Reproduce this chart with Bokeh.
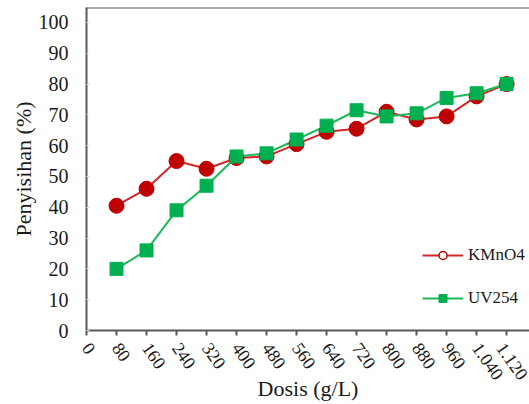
import math
from bokeh.plotting import figure
from bokeh.models import FixedTicker, Span, Legend, LegendItem, Range1d, ColumnDataSource
from bokeh.embed import file_html
from bokeh.resources import INLINE

# ---- data ----
dosis = [80, 160, 240, 320, 400, 480, 560, 640, 720, 800, 880, 960, 1040, 1120]
kmno4 = [40.5, 46, 55, 52.5, 56, 56.5, 60.5, 64.5, 65.5, 71, 68.5, 69.5, 76, 80]
uv254 = [20, 26, 39, 47, 56.5, 57.5, 62, 66.5, 71.5, 69.5, 70.5, 75.5, 77, 80]
x_ticks = [0, 80, 160, 240, 320, 400, 480, 560, 640, 720, 800, 880, 960, 1040, 1120]
x_tick_labels = ["0", "80", "160", "240", "320", "400", "480", "560", "640", "720",
                 "800", "880", "960", "1.040", "1.120"]
y_ticks = [0, 10, 20, 30, 40, 50, 60, 70, 80, 90, 100]
x_title = "Dosis (g/L)"
y_title = "Penyisihan (%)"

FONT = "Liberation Serif"
AXIS_COLOR = "#595959"
TEXT = "#1a1a1a"
RED = "#C00000"
RED_LINE = "#D02828"
GREEN = "#00B050"
GREEN_LINE = "#1DB85A"

Y_END = 104.85

p = figure(width=529, height=404, output_backend="svg", toolbar_location=None,
           x_range=Range1d(0, 1181), y_range=Range1d(0, Y_END),
           min_border_left=86, min_border_right=0, min_border_top=7, min_border_bottom=73)
p.outline_line_color = None
p.xgrid.visible = False
p.ygrid.visible = False
p.background_fill_color = "white"
p.border_fill_color = "white"

# top border line
p.add_layout(Span(location=Y_END, dimension="width", line_color=AXIS_COLOR, line_width=2))

# x axis
xa = p.xaxis[0]
xa.ticker = FixedTicker(ticks=x_ticks)
xa.major_label_overrides = {t: l for t, l in zip(x_ticks, x_tick_labels)}
xa.major_label_orientation = -0.96
xa.major_label_text_font = FONT
xa.major_label_text_font_size = "18px"
xa.major_label_text_color = TEXT
xa.major_label_standoff = 9
xa.axis_line_color = AXIS_COLOR
xa.axis_line_width = 2
xa.major_tick_line_color = AXIS_COLOR
xa.major_tick_line_width = 2
xa.major_tick_in = 0
xa.major_tick_out = 5
xa.minor_tick_line_color = None
xa.axis_label = x_title
xa.axis_label_text_font = FONT
xa.axis_label_text_font_size = "22px"
xa.axis_label_text_font_style = "normal"
xa.axis_label_text_color = TEXT
xa.axis_label_standoff = -12

# y axis
ya = p.yaxis[0]
ya.ticker = FixedTicker(ticks=y_ticks)
ya.major_label_text_font = FONT
ya.major_label_text_font_size = "20px"
ya.major_label_text_color = TEXT
ya.major_label_standoff = 18
ya.axis_line_color = AXIS_COLOR
ya.axis_line_width = 2
ya.major_tick_line_color = "#dcdcdc"
ya.major_tick_in = 3
ya.major_tick_out = 0
ya.minor_tick_line_color = None
ya.axis_label = y_title
ya.axis_label_text_font = FONT
ya.axis_label_text_font_size = "22px"
ya.axis_label_text_font_style = "normal"
ya.axis_label_text_color = TEXT
ya.axis_label_standoff = 0

# series
p.line(dosis, kmno4, line_color=RED_LINE, line_width=2)
p.line(dosis, uv254, line_color=GREEN_LINE, line_width=2)
p.scatter(dosis, kmno4, marker="circle", size=15, fill_color=RED, line_color=RED)
p.scatter(dosis, uv254, marker="square", size=13, fill_color=GREEN, line_color=GREEN)

# legend glyphs (not drawn on the plot: NaN position)
nan_src = ColumnDataSource(dict(x=[float("nan")], y=[float("nan")]))
lk_line = p.line("x", "y", source=nan_src, line_color=RED_LINE, line_width=2)
lk_mark = p.scatter("x", "y", source=nan_src, marker="circle", size=9,
                    fill_color="white", line_color=RED, line_width=1.5)
lu_line = p.line("x", "y", source=nan_src, line_color=GREEN_LINE, line_width=2)
lu_mark = p.scatter("x", "y", source=nan_src, marker="square", size=9,
                    fill_color=GREEN, line_color=GREEN)

legend = Legend(items=[LegendItem(label="KMnO4", renderers=[lk_line, lk_mark]),
                       LegendItem(label="UV254", renderers=[lu_line, lu_mark])],
                location=(336, 22), orientation="vertical",
                glyph_width=41, glyph_height=20, label_standoff=5, spacing=23,
                padding=0, margin=0, border_line_color=None,
                background_fill_alpha=0,
                label_text_font=FONT, label_text_font_size="17px",
                label_text_color=TEXT)
p.add_layout(legend)

open("out.html", "w").write(file_html(p, INLINE))
